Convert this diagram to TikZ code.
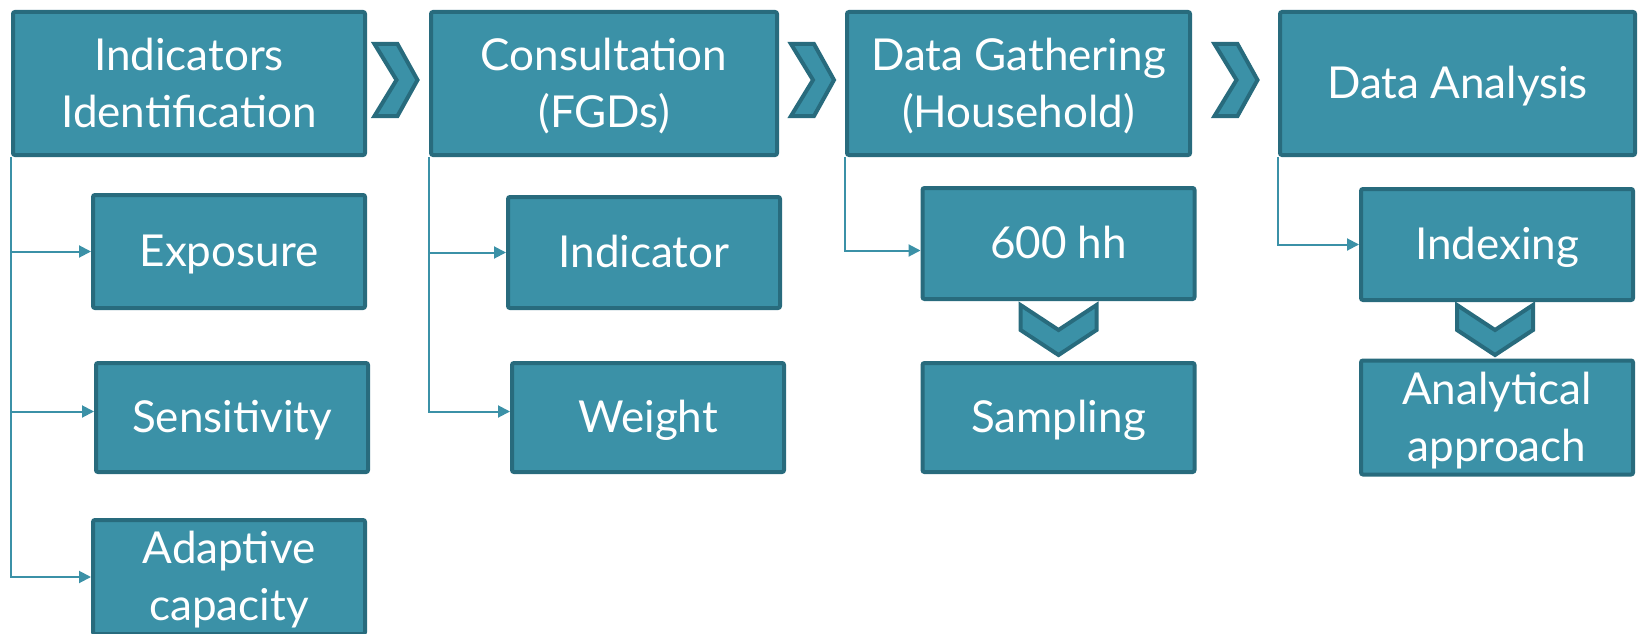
\documentclass[tikz,border=0pt]{standalone}
\usepackage{fontspec}
\setmainfont{Lato}
\usetikzlibrary{arrows.meta}
\definecolor{tealfill}{HTML}{3B91A7}
\definecolor{tealedge}{HTML}{286B7D}
\definecolor{tealline}{HTML}{3B91A7}
% text set slightly below the geometric centre of its box
\newcommand{\lbl}[1]{\raisebox{-4pt}[\height][\depth]{\begin{tabular}{@{}c@{}}#1\end{tabular}}}

\begin{document}
\begin{tikzpicture}[x=1pt,y=-1pt,
  box/.style={draw=tealedge, line width=4pt, fill=tealfill, rounded corners=2pt,
    text=white, align=center, inner sep=0pt, font=\fontsize{44}{57}\selectfont},
  topbox/.style={box, minimum height=143pt},
  subbox/.style={box, minimum width=272pt, minimum height=112pt},
  conn/.style={draw=tealline, line width=2pt, -{Triangle[length=12pt,width=12pt]}},
  chev/.style={draw=tealedge, line width=4pt, fill=tealfill, line join=miter}]

\clip (0,0) rectangle (1640,634);

% main stages
\node[topbox, minimum width=352pt] (ind) at (189,83.5) {\lbl{Indicators\\Identification}};
\node[topbox, minimum width=346pt] (con) at (604,83.5) {\lbl{Consultation\\(FGDs)}};
\node[topbox, minimum width=343pt] (gat) at (1018.5,83.5) {\lbl{Data Gathering\\(Household)}};
\node[topbox, minimum width=355pt] (ana) at (1457.5,83.5) {\lbl{Data Analysis}};

% sub-steps
\node[subbox, minimum height=113pt] (exp) at (229,251.5) {\lbl{Exposure}};
\node[subbox, minimum height=109pt] (sen) at (232,417.5) {\lbl{Sensitivity}};
\node[subbox, minimum height=113pt] (ada) at (229,577) {\lbl{Adaptive\\capacity}};
\node[subbox, minimum height=111pt] (icr) at (644,252.5) {\lbl{Indicator}};
\node[subbox, minimum height=109pt] (wei) at (648,417.5) {\lbl{Weight}};
\node[subbox, minimum height=111pt] (hh)  at (1058.5,243.5) {\lbl{600 hh}};
\node[subbox, minimum height=109pt] (sam) at (1058.5,417.5) {\lbl{Sampling}};
\node[subbox, minimum height=111pt] (idx) at (1497,244.5) {\lbl{Indexing}};
\node[subbox, minimum height=111pt] (apr) at (1497,417.5) {\lbl{Analytical\\approach}};

% connectors
\draw[conn] (ind.south west) |- (exp.west);
\draw[conn] (ind.south west) |- ([yshift=6pt]sen.west);
\draw[conn] (ind.south west) |- (ada.west);
\draw[conn] (con.south west) |- (icr.west);
\draw[conn] (con.south west) |- ([yshift=6pt]wei.west);
\draw[conn] (gat.south west) |- ([yshift=-7pt]hh.west);
\draw[conn] (ana.south west) |- (idx.west);

% right-pointing chevrons between stages
\foreach \cx in {395.5,812,1235.5}
  \draw[chev] (\cx,80) ++(-21,-36) -- ++(23,0) -- ++(20,36) -- ++(-20,36)
    -- ++(-23,0) -- ++(22,-36) -- cycle;

% downward chevrons
\foreach \cx in {1058.5,1495}
  \draw[chev] (\cx,330) ++(-38,-25) -- ++(38,25) -- ++(38,-25) -- ++(0,25)
    -- ++(-38,25) -- ++(-38,-25) -- cycle;
\end{tikzpicture}
\end{document}
